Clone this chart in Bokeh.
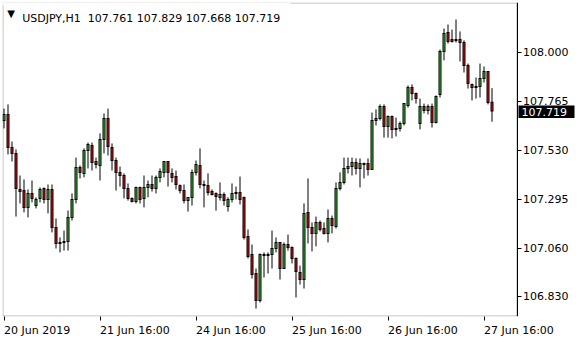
from bokeh.plotting import figure
from bokeh.models import (LinearAxis, FixedTicker, PrintfTickFormatter, Label, ColumnDataSource,
                          BoxAnnotation)
from bokeh.embed import file_html
from bokeh.resources import INLINE

symbol = "USDJPY,H1"

opens = [107.674, 107.703, 107.544, 107.516, 107.343, 107.338, 107.257, 107.324, 107.266, 107.300,
         107.348, 107.295, 107.343, 107.161, 107.089, 107.089, 107.094, 107.209, 107.295, 107.449,
         107.420, 107.530, 107.554, 107.477, 107.458, 107.583, 107.684, 107.544, 107.482, 107.425,
         107.410, 107.348, 107.300, 107.285, 107.353, 107.300, 107.353, 107.367, 107.348, 107.401,
         107.425, 107.477, 107.420, 107.405, 107.362, 107.338, 107.290, 107.305, 107.425, 107.458,
         107.367, 107.362, 107.333, 107.324, 107.305, 107.319, 107.261, 107.295, 107.324, 107.329,
         107.305, 107.118, 107.031, 106.940, 106.811, 107.026, 107.026, 107.031, 107.060, 107.089,
         106.964, 107.079, 107.065, 107.012, 106.945, 106.911, 107.233, 107.161, 107.132, 107.185,
         107.156, 107.132, 107.204, 107.166, 107.348, 107.377, 107.444, 107.453, 107.472, 107.444,
         107.463, 107.468, 107.439, 107.674, 107.684, 107.741, 107.645, 107.693, 107.636, 107.636,
         107.660, 107.746, 107.832, 107.803, 107.660, 107.741, 107.722, 107.741, 107.664, 107.799,
         108.005, 108.096, 108.062, 108.058, 108.062, 108.048, 107.938, 107.847, 107.832, 107.837,
         107.875, 107.909, 107.761]
highs = [107.731, 107.751, 107.573, 107.535, 107.410, 107.391, 107.343, 107.386, 107.305, 107.353,
         107.353, 107.367, 107.367, 107.204, 107.113, 107.146, 107.242, 107.324, 107.496, 107.458,
         107.540, 107.568, 107.568, 107.496, 107.612, 107.708, 107.731, 107.564, 107.496, 107.453,
         107.420, 107.372, 107.305, 107.357, 107.357, 107.410, 107.386, 107.410, 107.410, 107.444,
         107.477, 107.477, 107.444, 107.434, 107.367, 107.367, 107.305, 107.439, 107.482, 107.540,
         107.386, 107.420, 107.343, 107.329, 107.377, 107.329, 107.305, 107.372, 107.357, 107.405,
         107.309, 107.151, 107.079, 106.964, 107.036, 107.041, 107.041, 107.146, 107.113, 107.089,
         107.089, 107.127, 107.070, 107.017, 106.978, 107.276, 107.396, 107.185, 107.213, 107.194,
         107.185, 107.247, 107.218, 107.377, 107.425, 107.496, 107.496, 107.496, 107.492, 107.492,
         107.472, 107.492, 107.712, 107.727, 107.751, 107.751, 107.698, 107.698, 107.688, 107.669,
         107.755, 107.842, 107.847, 107.808, 107.779, 107.755, 107.751, 107.755, 107.794, 108.014,
         108.115, 108.134, 108.110, 108.158, 108.101, 108.058, 107.947, 107.851, 107.880, 107.947,
         107.933, 107.909, 107.829]
lows = [107.636, 107.511, 107.477, 107.213, 107.276, 107.233, 107.209, 107.281, 107.252, 107.281,
        107.276, 107.228, 107.137, 107.060, 107.041, 107.050, 107.050, 107.194, 107.276, 107.396,
        107.401, 107.444, 107.434, 107.444, 107.386, 107.516, 107.506, 107.434, 107.338, 107.357,
        107.300, 107.290, 107.281, 107.276, 107.276, 107.257, 107.305, 107.333, 107.324, 107.377,
        107.401, 107.357, 107.377, 107.343, 107.324, 107.276, 107.237, 107.266, 107.410, 107.348,
        107.257, 107.314, 107.314, 107.242, 107.290, 107.266, 107.237, 107.281, 107.295, 107.271,
        107.103, 107.012, 106.916, 106.772, 106.801, 106.921, 106.940, 106.964, 107.041, 106.911,
        106.964, 107.050, 106.988, 106.825, 106.887, 106.868, 107.084, 107.046, 107.070, 107.142,
        107.127, 107.089, 107.132, 107.156, 107.338, 107.367, 107.420, 107.410, 107.415, 107.353,
        107.396, 107.410, 107.439, 107.650, 107.674, 107.592, 107.592, 107.588, 107.597, 107.621,
        107.650, 107.736, 107.770, 107.755, 107.631, 107.708, 107.703, 107.640, 107.660, 107.784,
        107.962, 108.043, 108.048, 108.048, 107.957, 107.904, 107.827, 107.770, 107.779, 107.784,
        107.856, 107.751, 107.668]
closes = [107.703, 107.544, 107.516, 107.348, 107.333, 107.257, 107.324, 107.300, 107.295, 107.343,
          107.295, 107.343, 107.161, 107.084, 107.084, 107.094, 107.209, 107.295, 107.449, 107.425,
          107.530, 107.559, 107.472, 107.463, 107.583, 107.684, 107.549, 107.482, 107.425, 107.410,
          107.348, 107.300, 107.285, 107.353, 107.295, 107.353, 107.367, 107.348, 107.401, 107.429,
          107.477, 107.425, 107.401, 107.367, 107.338, 107.290, 107.305, 107.425, 107.463, 107.367,
          107.362, 107.329, 107.319, 107.309, 107.319, 107.290, 107.295, 107.324, 107.329, 107.295,
          107.113, 107.022, 106.935, 106.811, 107.031, 107.031, 107.031, 107.060, 107.089, 106.964,
          107.079, 107.065, 107.012, 106.950, 106.911, 107.228, 107.161, 107.132, 107.185, 107.151,
          107.132, 107.204, 107.170, 107.348, 107.377, 107.444, 107.453, 107.472, 107.444, 107.468,
          107.468, 107.439, 107.674, 107.684, 107.741, 107.645, 107.693, 107.631, 107.631, 107.660,
          107.755, 107.832, 107.803, 107.779, 107.741, 107.722, 107.741, 107.664, 107.789, 108.005,
          108.091, 108.053, 108.053, 108.062, 108.048, 107.938, 107.851, 107.832, 107.837, 107.875,
          107.909, 107.760, 107.719]

time_labels = ["20 Jun 2019", "21 Jun 16:00", "24 Jun 16:00", "25 Jun 16:00", "26 Jun 16:00", "27 Jun 16:00"]
time_label_bars = [0, 24, 48, 72, 96, 120]
price_ticks = [106.830, 107.060, 107.295, 107.530, 107.765, 108.000]

BULL = "#33cc33"
BEAR = "#e81010"
FONT = "DejaVu Sans"
FS = "11px"
FSPX = 11.0
PX_PER_BAR = 4.0

# approximate DejaVu Sans advance widths (em) used to left-align time labels at their ticks
ADV = {c: 0.636 for c in "0123456789"}
ADV.update({" ": 0.318, ":": 0.337, ".": 0.318, "J": 0.295, "u": 0.634, "n": 0.634})

def text_w(s):
    return sum(ADV.get(c, 0.6) for c in s) * FSPX

W, H = 580, 340
ML, MT, MB = 2, 2, 24
CHART_W = 514            # visible chart box width (price scale sits to its right)
fw, fh = W - ML, H - MT - MB
x0 = -0.375
x1 = x0 + fw / PX_PER_BAR
y0, y1 = 106.7338, 108.2398
dx = (x1 - x0) / fw
dy = (y1 - y0) / fh
x_edge = x0 + (CHART_W + 0.5) * dx   # right border of the chart box

n = len(opens)
idx = list(range(n))
top = [max(o, c) for o, c in zip(opens, closes)]
bot = [min(o, c) for o, c in zip(opens, closes)]
# body = 1px black frame around a coloured core
in_top = [max(t - 0.5 * dy, b + 0.5 * dy) for t, b in zip(top, bot)]
in_bot = [min(b + 0.5 * dy, t - 0.5 * dy) for t, b in zip(top, bot)]
in_bot = [min(ib, it) for ib, it in zip(in_bot, in_top)]
src = ColumnDataSource(dict(
    x=idx, high=highs, low=lows,
    otop=[t + 0.5 * dy for t in top], obot=[b - 0.5 * dy for b in bot],
    itop=in_top, ibot=in_bot,
    color=[BULL if c >= o else BEAR for o, c in zip(opens, closes)],
))

p = figure(width=W, height=H, x_range=(x0, x1), y_range=(y0, y1),
           output_backend="svg", toolbar_location=None,
           x_axis_location=None, y_axis_location=None,
           min_border_left=ML, min_border_right=0, min_border_top=MT, min_border_bottom=MB)
p.grid.visible = False
p.outline_line_color = None
p.background_fill_color = "white"
p.border_fill_color = "white"

p.segment(x0="x", y0="low", x1="x", y1="high", source=src, line_color="black", line_width=1)
p.vbar(x="x", width=3 / PX_PER_BAR, top="otop", bottom="obot", source=src,
       fill_color="black", line_color=None)
p.vbar(x="x", width=1 / PX_PER_BAR, top="itop", bottom="ibot", source=src,
       fill_color="color", line_color=None)

# chart box border
p.add_layout(BoxAnnotation(left=x0 + 0.5 * dx, right=x_edge, bottom=y0 + 0.5 * dy, top=y1 - 0.5 * dy,
                           fill_color=None, fill_alpha=0, line_color="black", line_width=1))
# title area hides the top border on the left
p.add_layout(BoxAnnotation(left=x0, right=x0 + 288 * dx, bottom=y1 - 3 * dy, top=y1,
                           fill_color="white", fill_alpha=1, line_color=None))

# price scale on the right edge of the chart box
ry = LinearAxis(ticker=FixedTicker(ticks=price_ticks), formatter=PrintfTickFormatter(format="%.3f"),
                fixed_location=x_edge)
ry.axis_line_color = "black"
ry.major_tick_in = 0
ry.major_tick_out = 4
ry.major_tick_line_color = "black"
ry.minor_tick_line_color = None
ry.major_label_standoff = 2
ry.major_label_text_font = FONT
ry.major_label_text_font_size = FS
ry.major_label_text_color = "black"
p.add_layout(ry, "right")

# time axis: tick marks (minor) at the bars, labels centred so that they start at the tick
centers = [t + text_w(s) / 2.0 / PX_PER_BAR for t, s in zip(time_label_bars, time_labels)]
bx = LinearAxis(ticker=FixedTicker(ticks=centers, minor_ticks=time_label_bars),
                major_label_overrides={c: s for c, s in zip(centers, time_labels)})
bx.axis_line_color = None
bx.major_tick_in = 0
bx.major_tick_out = 4
bx.major_tick_line_color = None
bx.minor_tick_in = 0
bx.minor_tick_out = 4
bx.minor_tick_line_color = "black"
bx.major_label_standoff = 3
bx.major_label_text_font = FONT
bx.major_label_text_font_size = FS
bx.major_label_text_color = "black"
p.add_layout(bx, "below")

# title
p.add_layout(Label(x=x0 + 8.6 * dx, y=y1 - 10.5 * dy, text="\u25bc", text_align="center",
                   text_baseline="middle", text_font=FONT, text_font_size="10px", text_color="black"))
vals = " ".join(f"{v:.3f}" for v in (opens[-1], highs[-1], lows[-1], closes[-1]))
p.add_layout(Label(x=x0 + 19.7 * dx, y=y1 - 16 * dy, text=symbol + "\u00a0\u00a0" + vals,
                   text_align="left", text_baseline="alphabetic", text_font=FONT,
                   text_font_size=FS, text_color="black"))

# current price box
last = closes[-1]
p.add_layout(BoxAnnotation(left=x_edge + 1.5 * dx, right=x_edge + 57.5 * dx,
                           bottom=last - 7 * dy, top=last + 5.5 * dy,
                           fill_color="black", fill_alpha=1, line_color=None))
p.add_layout(Label(x=x_edge + 4.5 * dx, y=last - 0.5 * dy, text=f"{last:.3f}", text_align="left",
                   text_baseline="middle", text_font=FONT, text_font_size=FS, text_color="white"))

open("out.html", "w").write(file_html(p, INLINE))
